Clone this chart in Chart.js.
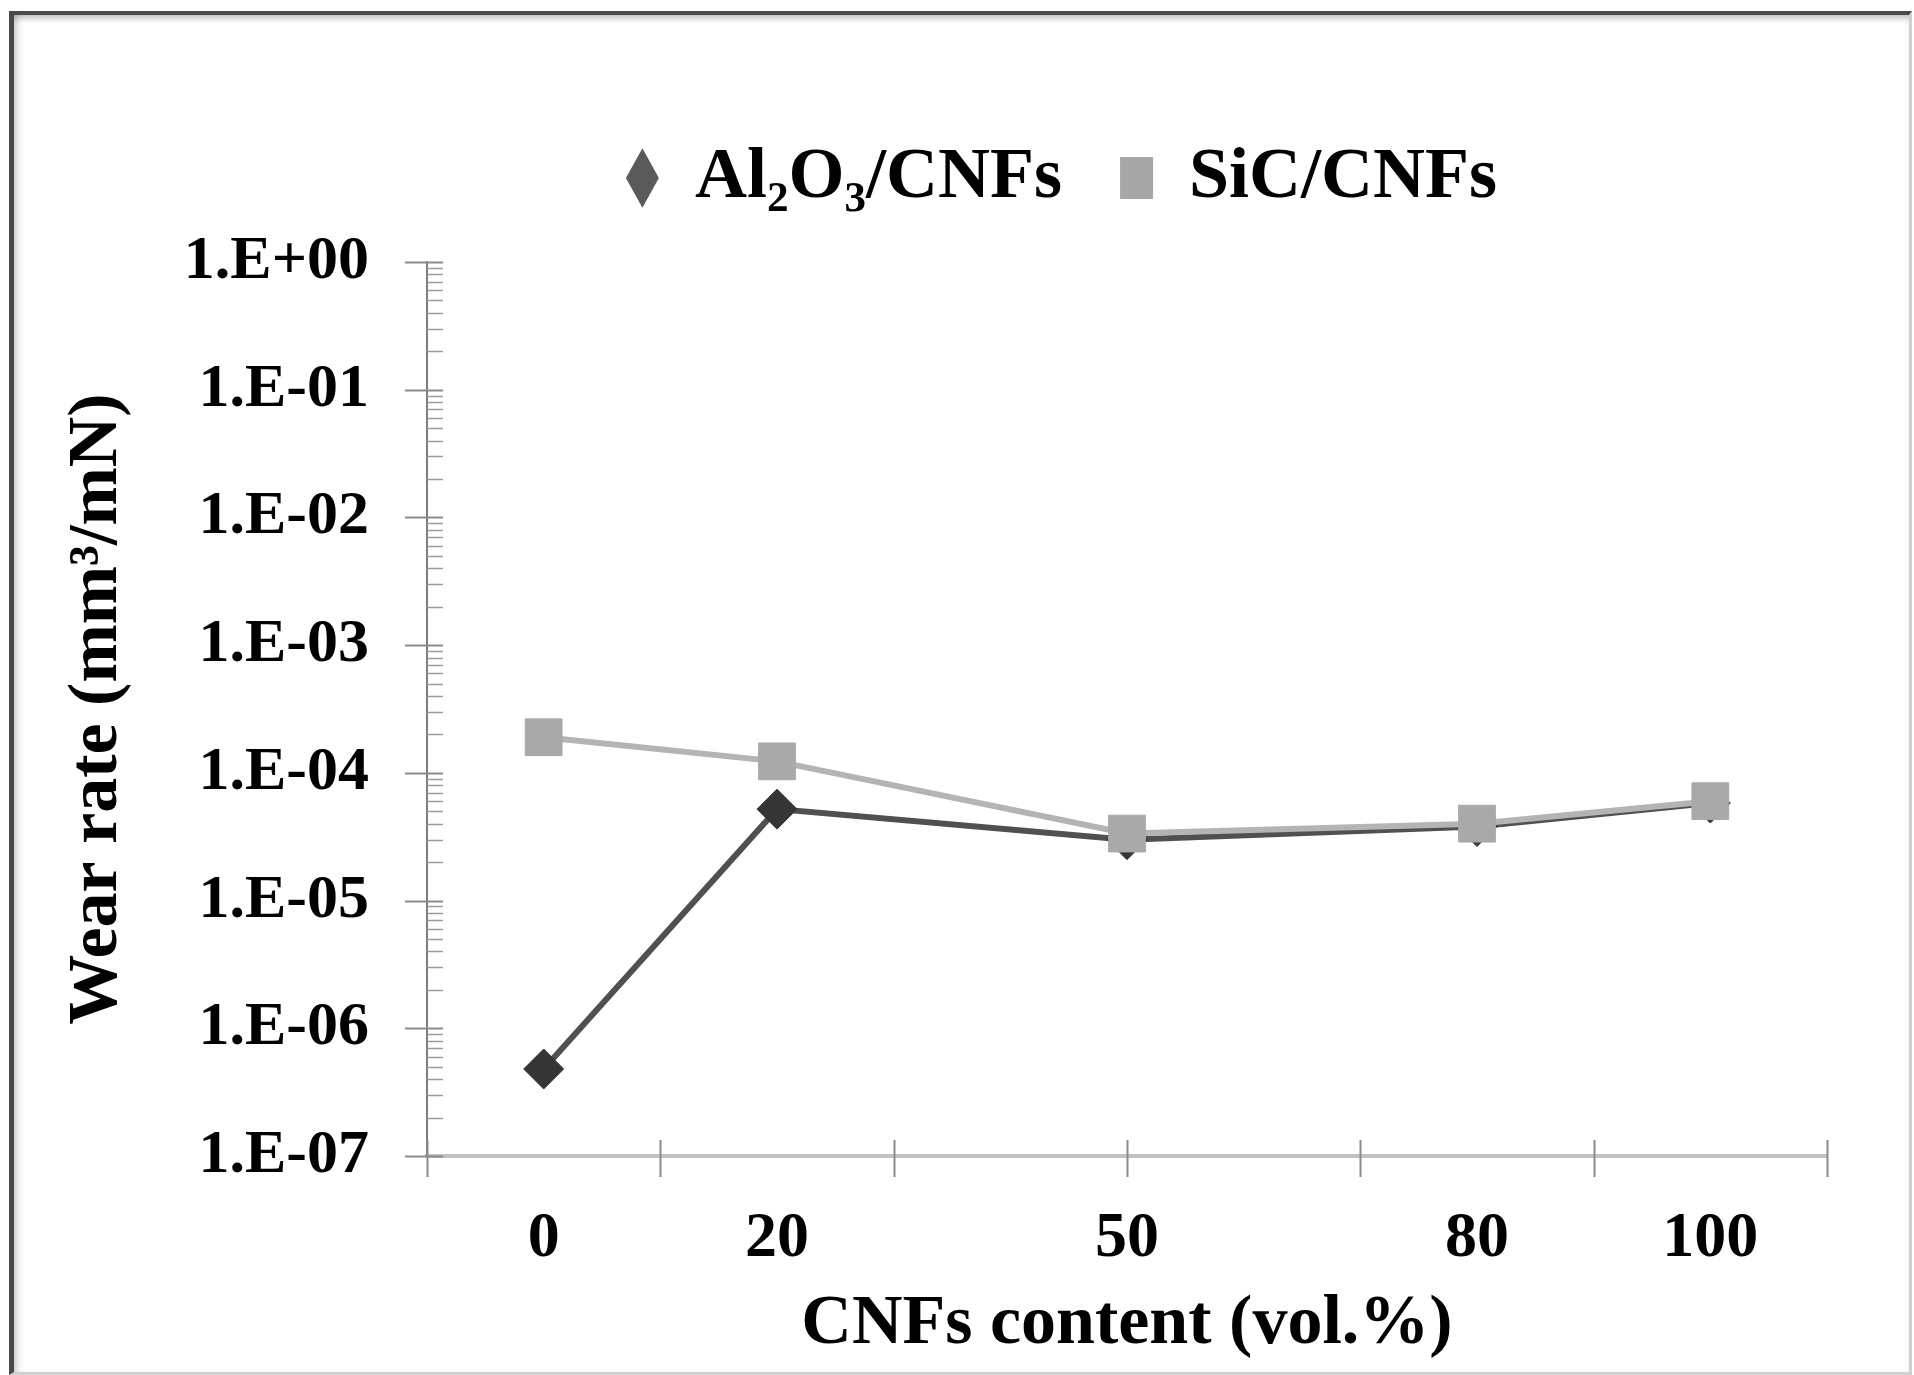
<!DOCTYPE html>
<html>
<head>
<meta charset="utf-8">
<script src="https://cdn.jsdelivr.net/npm/chart.js@4/dist/chart.umd.min.js"></script>
<style>
  html, body { margin: 0; padding: 0; background: #fff; }
  #wrap { position: relative; width: 1914px; height: 1375px; }
  #frame {
    position: absolute; left: 9px; top: 11px; right: 2px; bottom: 0px;
    border-top: 4px solid #4a4a4a; border-left: 5px solid #4a4a4a;
    border-right: 3px solid #d0d0d0; border-bottom: 3px solid #d0d0d0;
    box-shadow: inset 0 7px 7px -4px rgba(0,0,0,0.28), inset 7px 0 7px -4px rgba(0,0,0,0.2);
    pointer-events: none;
  }
</style>
</head>
<body>
<div id="wrap">
  <canvas id="c"></canvas>
  <div id="frame"></div>
</div>
<script>
// ---- data ----
const cnfContent = [0, 20, 50, 80, 100];
const al2o3Wear = [4.8e-7, 5.2e-5, 3.0e-5, 3.8e-5, 5.8e-5];
const sicWear = [1.9e-4, 1.23e-4, 3.35e-5, 4.0e-5, 6.0e-5];
const seriesNames = ['Al\u2082O\u2083/CNFs', 'SiC/CNFs'];
const yTickValues = [1e-7, 1e-6, 1e-5, 1e-4, 1e-3, 1e-2, 1e-1, 1];
const yTickLabels = ['1.E-07', '1.E-06', '1.E-05', '1.E-04', '1.E-03', '1.E-02', '1.E-01', '1.E+00'];
const xLabelValues = [0, 20, 50, 80, 100];
const xLabelTexts = ['0', '20', '50', '80', '100'];
const xTickMarks = [-10, 10, 30, 50, 70, 90, 110];
const xRange = [-10, 110];
const yRange = [1e-7, 1];

const FONT = '"Liberation Serif", "Times New Roman", serif';

const crossTicks = {
  id: 'crossTicks',
  beforeDatasetsDraw(chart) {
    const ctx = chart.ctx, xs = chart.scales.x, ys = chart.scales.y;
    const ax = ys.right, ay = xs.top;
    ctx.save();
    ctx.strokeStyle = '#8a8a8a';
    ctx.lineWidth = 2;
    yTickValues.forEach(v => {
      const py = Math.round(ys.getPixelForValue(v)) + 0.5;
      ctx.beginPath(); ctx.moveTo(ax - 22, py); ctx.lineTo(ax + 16, py); ctx.stroke();
    });
    ctx.lineWidth = 1.5;
    ctx.strokeStyle = '#9a9a9a';
    for (let i = 0; i < yTickValues.length - 1; i++) {
      for (let m = 2; m <= 9; m++) {
        const py = Math.round(ys.getPixelForValue(yTickValues[i] * m)) + 0.5;
        ctx.beginPath(); ctx.moveTo(ax, py); ctx.lineTo(ax + 16, py); ctx.stroke();
      }
    }
    ctx.strokeStyle = '#8a8a8a';
    ctx.lineWidth = 2;
    xTickMarks.forEach(v => {
      const px = Math.round(xs.getPixelForValue(v)) + 0.5;
      ctx.beginPath(); ctx.moveTo(px, ay - 16); ctx.lineTo(px, ay + 21); ctx.stroke();
    });
    ctx.restore();
  }
};

// legend placement: extra space below the legend and a horizontal offset
const LEGEND_EXTRA_HEIGHT = 38;
const LEGEND_SHIFT_X = 133;
const legendTweak = {
  id: 'legendTweak',
  beforeLayout(chart) {
    const lg = chart.legend;
    if (lg && !lg._tweaked) {
      const orig = lg.fit.bind(lg);
      lg.fit = function () { orig(); this.height += LEGEND_EXTRA_HEIGHT; };
      lg._tweaked = true;
    }
  },
  afterLayout(chart) {
    const lg = chart.legend;
    if (lg) { lg.left += LEGEND_SHIFT_X; lg.right += LEGEND_SHIFT_X; }
  }
};

const legendColors = ['#5a5a5a', '#a6a6a6'];

new Chart(document.getElementById('c'), {
  type: 'scatter',
  data: {
    datasets: [
      {
        label: seriesNames[0],
        data: cnfContent.map((x, i) => ({ x: x, y: al2o3Wear[i] })),
        showLine: true,
        borderColor: '#505050',
        borderWidth: 6,
        pointStyle: 'rectRot',
        pointRadius: 20,
        pointBackgroundColor: '#353535',
        pointBorderColor: '#353535',
        pointBorderWidth: 1,
        order: 1,
        clip: false
      },
      {
        label: seriesNames[1],
        data: cnfContent.map((x, i) => ({ x: x, y: sicWear[i] })),
        showLine: true,
        borderColor: '#b4b4b4',
        borderWidth: 6,
        pointStyle: 'rect',
        pointRadius: 26,
        pointBackgroundColor: '#a9a9a9',
        pointBorderColor: '#a9a9a9',
        pointBorderWidth: 1,
        order: 0,
        clip: false
      }
    ]
  },
  options: {
    responsive: true,
    maintainAspectRatio: false,
    animation: false,
    devicePixelRatio: 1,
    events: [],
    layout: { padding: { top: 84, left: 30, right: 87, bottom: 0 } },
    plugins: {
      tooltip: { enabled: false },
      legend: {
        display: true,
        position: 'top',
        labels: {
          usePointStyle: true,
          pointStyleWidth: 33,
          boxHeight: 42,
          padding: 58,
          color: '#000',
          font: { family: FONT, size: 72, weight: 'bold' },
          sort: (a, b) => a.datasetIndex - b.datasetIndex,
          generateLabels(chart) {
            const items = Chart.defaults.plugins.legend.labels.generateLabels(chart);
            items.forEach(it => {
              it.fillStyle = legendColors[it.datasetIndex];
              it.strokeStyle = legendColors[it.datasetIndex];
              it.lineWidth = 0;
            });
            return items;
          }
        }
      }
    },
    scales: {
      x: {
        type: 'linear',
        position: 'bottom',
        min: xRange[0],
        max: xRange[1],
        afterBuildTicks(scale) { scale.ticks = xLabelValues.map(v => ({ value: v })); },
        afterFit(scale) { scale.height = 219; },
        grid: { display: false, drawTicks: false },
        border: { display: true, color: '#c2c2c2', width: 4 },
        ticks: {
          padding: 45,
          color: '#000',
          maxRotation: 0,
          autoSkip: false,
          font: { family: FONT, size: 64, weight: 'bold' },
          callback: (v) => { const i = xLabelValues.indexOf(v); return i >= 0 ? xLabelTexts[i] : ''; }
        },
        title: {
          display: true,
          text: 'CNFs content (vol.%)',
          color: '#000',
          font: { family: FONT, size: 70, weight: 'bold' },
          padding: { top: 0, bottom: 8 }
        }
      },
      y: {
        type: 'logarithmic',
        position: 'left',
        min: yRange[0],
        max: yRange[1],
        afterBuildTicks(scale) { scale.ticks = yTickValues.map(v => ({ value: v })); },
        afterFit(scale) { scale.width = 427 - 30; },
        grid: { display: false, drawTicks: false },
        border: { display: true, color: '#7d7d7d', width: 2 },
        ticks: {
          padding: 58,
          color: '#000',
          autoSkip: false,
          font: { family: FONT, size: 62, weight: 'bold' },
          callback: (v) => { const i = yTickValues.findIndex(t => Math.abs(Math.log10(t) - Math.log10(v)) < 1e-6); return i >= 0 ? yTickLabels[i] : ''; }
        },
        title: {
          display: true,
          text: 'Wear rate (mm\u00b3/mN)',
          color: '#000',
          font: { family: FONT, size: 70, weight: 'bold' },
          padding: { top: 26, bottom: 0 }
        }
      }
    }
  },
  plugins: [crossTicks, legendTweak]
});
</script>
</body>
</html>
